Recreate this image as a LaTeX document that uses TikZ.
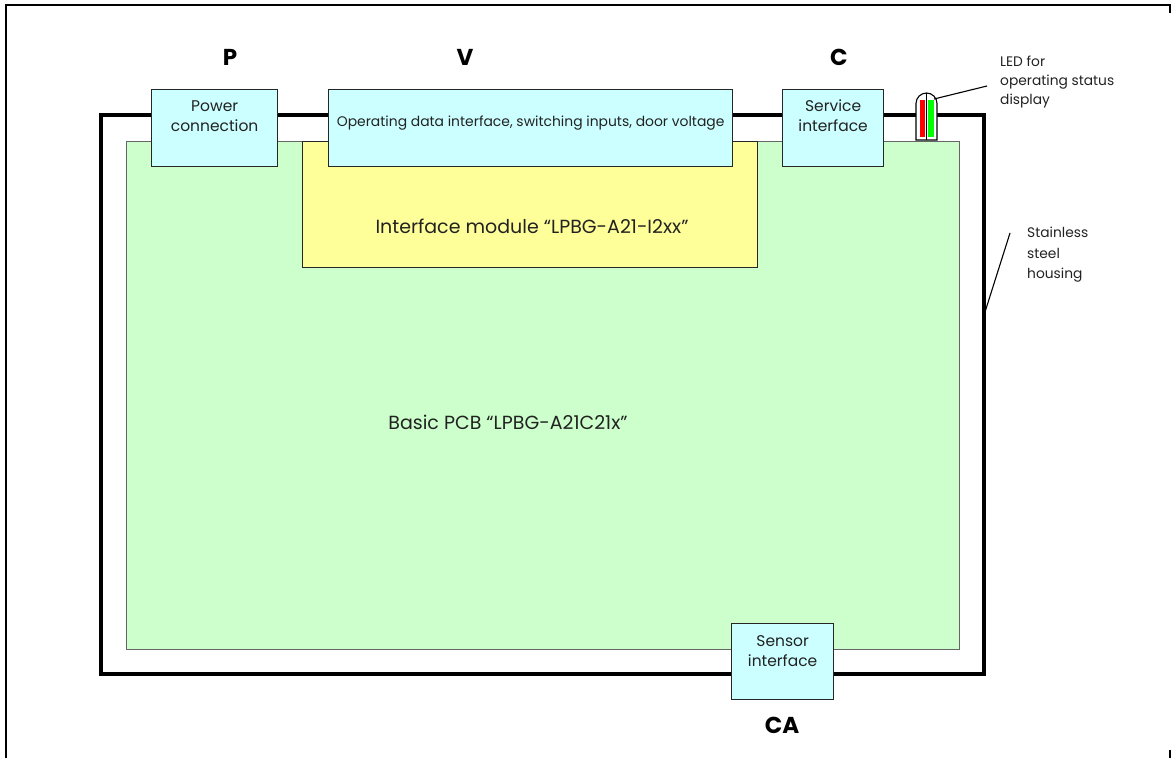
\documentclass[tikz,border=0pt]{standalone}
\usepackage{fontspec}
\setmainfont{Poppins}
\definecolor{pcbgreen}{HTML}{CCFFCC}
\definecolor{modyellow}{HTML}{FFFF99}
\definecolor{ifcyan}{HTML}{CCFFFF}
\definecolor{txt}{HTML}{222222}
\definecolor{ledred}{HTML}{FF0000}
\definecolor{ledgreen}{HTML}{00FF00}
\begin{document}
\begin{tikzpicture}[x=1pt,y=-1pt,
  ifbox/.style={draw=black!85,line width=1.3pt,fill=ifcyan,inner sep=0pt,anchor=north west},
  boxtxt/.style={anchor=center,text=txt,font=\fontsize{15.5}{20}\selectfont,align=center,inner sep=0pt},
  biglbl/.style={text=txt,font=\fontsize{19}{22}\selectfont,inner sep=0pt},
  sidelbl/.style={anchor=north west,text=txt,font=\fontsize{13.8}{18.5}\selectfont,align=left,inner sep=0pt},
  letter/.style={font=\fontsize{23}{26}\selectfont\bfseries,text=black,inner sep=0pt},
  leader/.style={line width=1.1pt,draw=black}]
\useasboundingbox (0,0) rectangle (1171,758);
% outer frame
\draw[line width=2pt] (6,758) -- (6,5) -- (1170,5) -- (1170,13);
\draw[line width=2pt] (1170,750) -- (1170,758);
% housing
\draw[line width=4pt] (101,115) rectangle (984,674);
% basic PCB
\node[draw=black!60,line width=1.3pt,fill=pcbgreen,anchor=north west,inner sep=0pt,
  minimum width=833pt,minimum height=508pt] (pcb) at (126,141) {};
% interface module
\node[draw=black!85,line width=1.3pt,fill=modyellow,anchor=north west,inner sep=0pt,
  minimum width=455pt,minimum height=126pt] (mod) at (302,141) {};
% interface boxes
\node[ifbox,minimum width=126pt,minimum height=77pt] (power) at (151,89) {};
\node[ifbox,minimum width=404pt,minimum height=77pt] (vbox) at (328,89) {};
\node[ifbox,minimum width=101pt,minimum height=77pt] (service) at (782,89) {};
\node[ifbox,minimum width=102pt,minimum height=76pt] (sensor) at (731,623) {};
% box texts
\node[boxtxt] (powertxt) at ([yshift=-27pt]power.north) {Power\\connection};
\node[boxtxt,font=\fontsize{13.9}{16}\selectfont] (vtxt) at ([yshift=-34pt]vbox.north) {Operating data interface, switching inputs, door voltage};
\node[boxtxt] (servicetxt) at ([yshift=-27pt]service.north) {Service\\interface};
\node[boxtxt] (sensortxt) at ([yshift=-28pt]sensor.north) {Sensor\\interface};
\node[biglbl] (modtxt) at (532,226) {Interface module “LPBG-A21-I2xx”};
\node[biglbl] (pcbtxt) at (508,422) {Basic PCB “LPBG-A21C21x”};
% letters
\node[letter] (P) at (230,57) {P};
\node[letter] (V) at (465,57) {V};
\node[letter] (C) at (839,57) {C};
\node[letter] (CA) at (782,725) {CA};
% LED
\coordinate (ledtip) at (934,99);
\fill[white] (916,140) -- (916,103.5) arc[start angle=180,end angle=360,radius=10.5] -- (937,140) -- cycle;
\fill[ledred] (919.5,137) rectangle (925,100);
\fill[ledgreen] (928,137) rectangle (933.5,100);
\draw[line width=1.1pt] (916,140) -- (916,103.5) arc[start angle=180,end angle=360,radius=10.5] -- (937,140) -- cycle;
\draw[line width=1.1pt] (926.5,93) -- (926.5,140);
% LED label
\node[sidelbl,font=\fontsize{13.8}{19}\selectfont] (ledtxt) at (1000,56) {LED for\\operating status\\display};
\coordinate (ledend) at (987,86);
\draw[leader] (ledtip) -- (ledend);
% housing label
\node[sidelbl,font=\fontsize{13.8}{20.5}\selectfont] (housetxt) at (1027,227) {Stainless\\steel\\housing};
\coordinate (housestart) at (1010,233);
\coordinate (houseend) at (985,312);
\draw[leader] (housestart) -- (houseend);
\end{tikzpicture}
\end{document}
